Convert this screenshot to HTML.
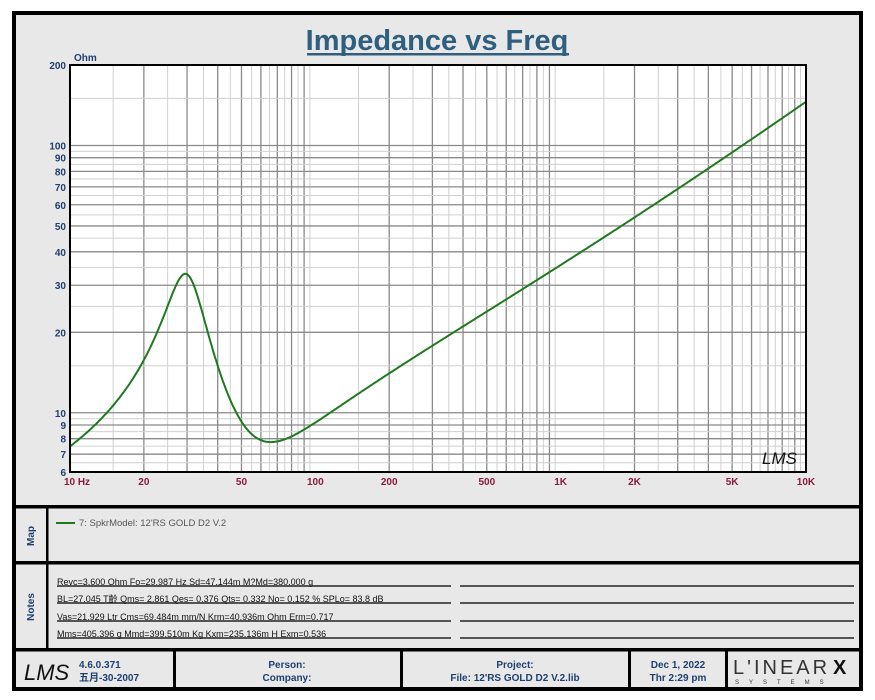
<!DOCTYPE html>
<html><head><meta charset="utf-8"><style>
html,body{margin:0;padding:0;background:#fff;}
svg{display:block;}
text{font-family:"Liberation Sans","Noto Sans CJK SC",sans-serif;}
</style></head><body>
<svg id="s" width="875" height="700" viewBox="0 0 875 700" xmlns="http://www.w3.org/2000/svg">
<rect x="0" y="0" width="875" height="700" fill="#fff"/>
<rect x="14" y="13" width="847" height="676" fill="#e8e8e8" stroke="#000" stroke-width="4"/>
<text x="437" y="50" text-anchor="middle" font-size="29" font-weight="bold" fill="#2f5f7f">Impedance vs Freq</text>
<rect x="307" y="53" width="262" height="2.5" fill="#2f5f7f"/>
<rect x="70" y="65" width="736" height="407" fill="#fff"/>
<g id="grid"></g>
<path id="curve" fill="none" stroke="#1f7a1f" stroke-width="2"/>
<rect x="70" y="65" width="736" height="407" fill="none" stroke="#000" stroke-width="2"/>
<text x="74" y="61" font-size="10" font-weight="bold" fill="#1f3f6f">Ohm</text>
<g id="labels" font-size="10" font-weight="bold"></g>
<text x="762" y="464" font-size="17" font-style="italic" fill="#111" font-family="Liberation Serif,serif">LMS</text>
<rect x="14" y="505" width="847" height="3.5" fill="#000"/>
<rect x="14" y="561" width="847" height="3.5" fill="#000"/>
<rect x="14" y="648" width="847" height="3.5" fill="#000"/>
<rect x="46" y="507" width="2.5" height="143" fill="#000"/>
<text transform="translate(34,536) rotate(-90)" text-anchor="middle" font-size="10" font-weight="bold" fill="#1f3f6f">Map</text>
<text transform="translate(34,607) rotate(-90)" text-anchor="middle" font-size="10" font-weight="bold" fill="#1f3f6f">Notes</text>
<line x1="56" y1="523" x2="75" y2="523" stroke="#1f7a1f" stroke-width="2"/>
<text x="79" y="526" font-size="9.5" fill="#555">7: SpkrModel: 12'RS GOLD D2 V.2</text>
<g font-size="9" fill="#111">
<text x="57" y="585">Revc=3.600 Ohm  Fo=29.987 Hz  Sd=47.144m M?Md=380.000 g</text>
<text x="57" y="602">BL=27.045 T齡  Qms= 2.861  Qes= 0.376  Qts= 0.332  No= 0.152 %  SPLo= 83.8 dB</text>
<text x="57" y="620">Vas=21.929 Ltr  Cms=69.484m mm/N  Krm=40.936m Ohm  Erm=0.717</text>
<text x="57" y="637">Mms=405.396 g  Mmd=399.510m Kg  Kxm=235.136m H  Exm=0.536</text>
</g>
<g stroke="#222" stroke-width="1.5">
<line x1="57" y1="586" x2="451" y2="586"/><line x1="460" y1="586" x2="854" y2="586"/>
<line x1="57" y1="603" x2="451" y2="603"/><line x1="460" y1="603" x2="854" y2="603"/>
<line x1="57" y1="621" x2="451" y2="621"/><line x1="460" y1="621" x2="854" y2="621"/>
<line x1="57" y1="638" x2="451" y2="638"/><line x1="460" y1="638" x2="854" y2="638"/>
</g>
<g fill="#000">
<rect x="173" y="650" width="3" height="38"/>
<rect x="400" y="650" width="3" height="38"/>
<rect x="628" y="650" width="3" height="38"/>
<rect x="725" y="650" width="3" height="38"/>
</g>
<text x="24" y="680" font-size="22" font-style="italic" fill="#111" font-family="Liberation Serif,serif">LMS</text>
<g font-size="10" font-weight="bold" fill="#1f3f6f">
<text x="79" y="668">4.6.0.371</text>
<text x="79" y="681">五月-30-2007</text>
<text x="287" y="668" text-anchor="middle">Person:</text>
<text x="287" y="681" text-anchor="middle">Company:</text>
<text x="515" y="668" text-anchor="middle">Project:</text>
<text x="515" y="681" text-anchor="middle">File: 12'RS GOLD D2 V.2.lib</text>
<text x="678" y="668" text-anchor="middle">Dec  1, 2022</text>
<text x="678" y="681" text-anchor="middle">Thr  2:29 pm</text>
</g>
<text x="733" y="674" font-size="20" fill="#333" font-family="Liberation Serif,serif" letter-spacing="3">L'INEAR</text>
<text x="833" y="674" font-size="20" font-weight="bold" fill="#111">X</text>
<text x="735" y="684" font-size="6" fill="#333" letter-spacing="10">SYSTEMS</text>
</svg>
<script>
var NS="http://www.w3.org/2000/svg";
function X(f){return 70+245.33*Math.log10(f/10);}
function Y(z){return 65+267.3*Math.log10(200/z);}
var g=document.getElementById('grid');
function ln(x1,y1,x2,y2,c,w){var l=document.createElementNS(NS,'line');l.setAttribute('x1',x1);l.setAttribute('y1',y1);l.setAttribute('x2',x2);l.setAttribute('y2',y2);l.setAttribute('stroke',c);l.setAttribute('stroke-width',w);g.appendChild(l);}
[10,100,1000].forEach(function(d){for(var m=1;m<10;m++){ if(m>1)ln(X(d*m),65,X(d*m),472,'#8a8a8a',1.3); ln(X(d*(m+0.5)),65,X(d*(m+0.5)),472,'#d0d0d0',1);}});
[[6,10],[10,100],[100,200]].forEach(function(r){var d=r[0]<10?1:(r[0]<100?10:100);for(var v=r[0];v<r[1];v+=d){if(v!==6)ln(70,Y(v),806,Y(v),'#8a8a8a',1.3);ln(70,Y(v+d/2),806,Y(v+d/2),'#d0d0d0',1);}});
var L=document.getElementById('labels');
function tx(x,y,s,c,a){var t=document.createElementNS(NS,'text');t.setAttribute('x',x);t.setAttribute('y',y);t.setAttribute('fill',c);t.setAttribute('text-anchor',a);t.textContent=s;L.appendChild(t);}
[200,100,90,80,70,60,50,40,30,20,10,9,8,7,6].forEach(function(v){tx(66,Y(v)+4,v,'#1f3f6f','end');});
tx(77,485,'10  Hz','#8b1a3a','middle');
[[20,'20'],[50,'50'],[100,'100'],[200,'200'],[500,'500'],[1000,'1K'],[2000,'2K'],[5000,'5K'],[10000,'10K']].forEach(function(p){tx(X(p[0]),485,p[1],'#8b1a3a','middle');});
var Re=3.6,fs=29.987,Qms=2.861,Qes=0.376,Res=Re*Qms/Qes,Krm=0.040936,Erm=0.717,Kxm=0.235136,Exm=0.536;
var d='';
for(var i=0;i<=600;i++){var f=10*Math.pow(1000,i/600),w=2*Math.PI*f;
var q=Qms*(f/fs-fs/f),den=1+q*q;var mr=Res/den,mi=-Res*q/den;
var r=Re+mr+Krm*Math.pow(w,Erm),im=mi+Kxm*Math.pow(w,Exm);
var z=Math.sqrt(r*r+im*im);d+=(i?'L':'M')+X(f).toFixed(1)+' '+Y(z).toFixed(1);}
document.getElementById('curve').setAttribute('d',d);
</script>
</body></html>
